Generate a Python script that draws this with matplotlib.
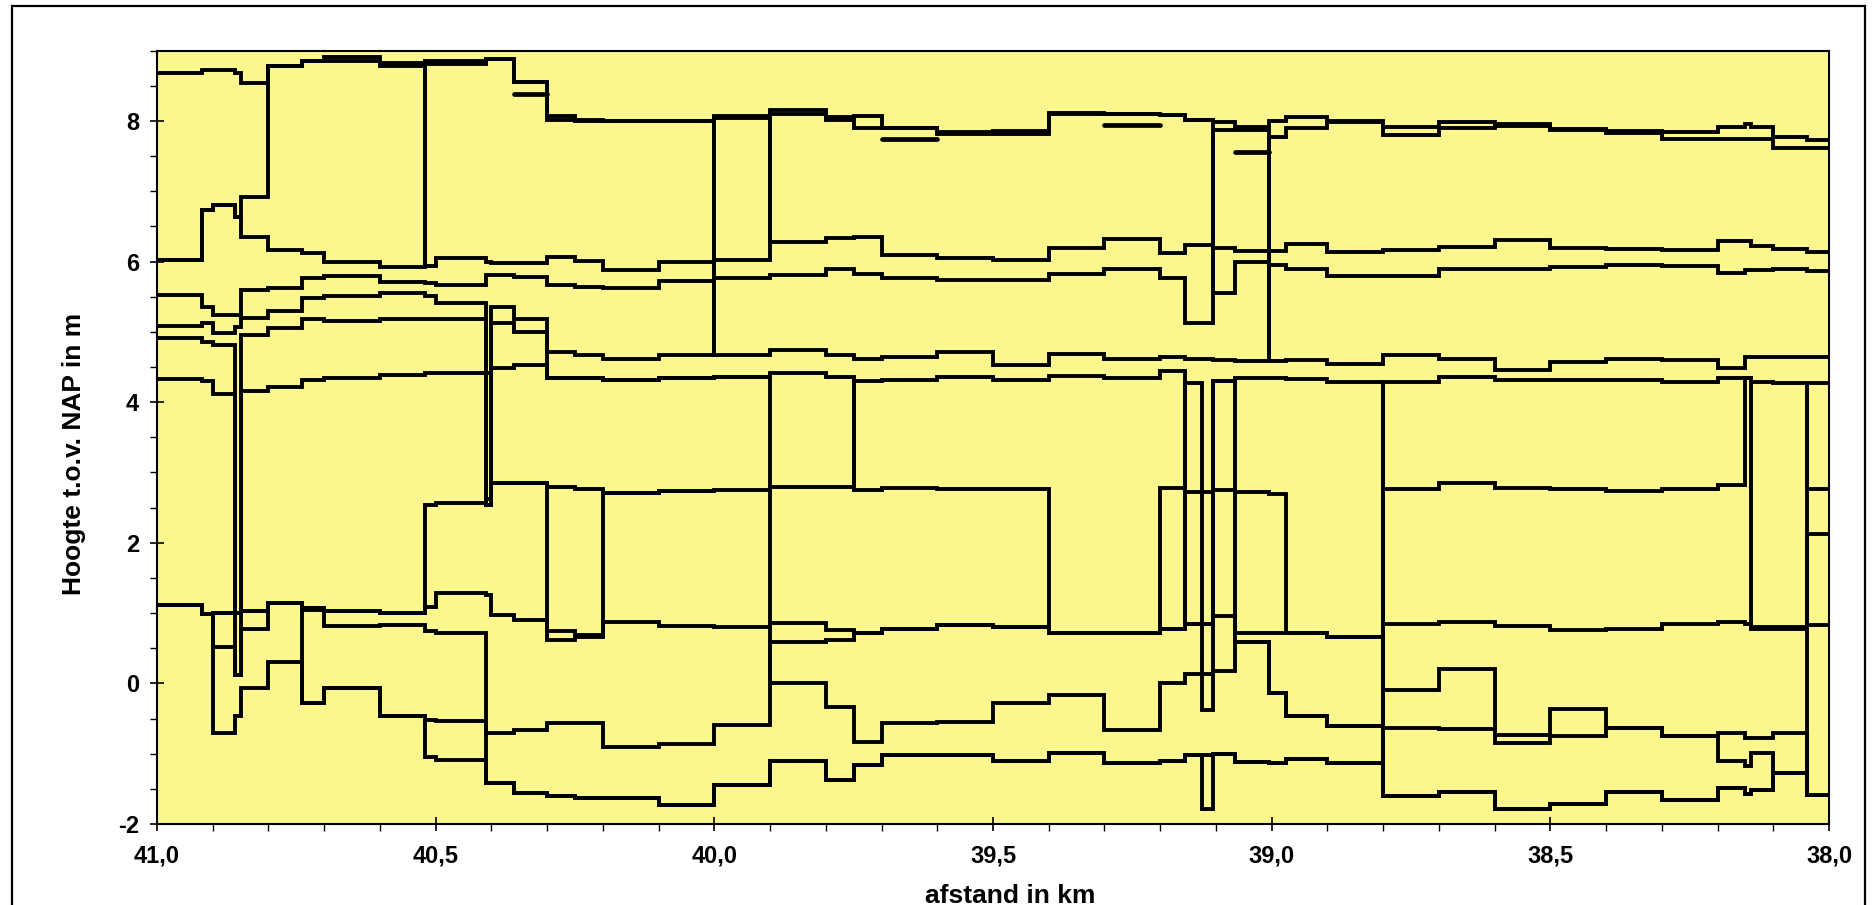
import numpy as np
import matplotlib
matplotlib.use("Agg")
import matplotlib.pyplot as plt
from matplotlib.ticker import MultipleLocator, FixedLocator, FuncFormatter
from matplotlib.patches import Rectangle

plt.rcParams['font.family'] = ['Liberation Sans', 'DejaVu Sans']

nan = np.nan

# step boundaries along the route (km), shared by all series
km_edges = [41.00, 40.92, 40.90, 40.86, 40.85, 40.80, 40.74, 40.70, 40.60, 40.52,
            40.50, 40.41, 40.40, 40.36, 40.30, 40.25, 40.20, 40.10, 40.00, 39.90,
            39.80, 39.75, 39.70, 39.60, 39.50, 39.40, 39.30, 39.20, 39.155, 39.125,
            39.105, 39.065, 39.005, 38.975, 38.90, 38.80, 38.70, 38.60, 38.50, 38.40,
            38.30, 38.20, 38.15, 38.14, 38.10, 38.04, 38.00]

# heights (m t.o.v. NAP) per interval
top_crest = [8.68, 8.72, 8.72, 8.68, 8.54, 8.78, 8.86, 8.91, 8.82, 8.86,
             8.86, 8.88, 8.88, 8.56, 8.07, 8.01, 8.00, 8.00, 8.07, 8.15,
             8.06, 8.07, 7.90, 7.85, 7.86, 8.12, 8.10, 8.08, 8.02, 8.02,
             7.99, 7.92, 8.00, 8.06, 8.00, 7.91, 7.99, 7.96, 7.88, 7.86,
             7.85, 7.92, 7.96, 7.92, 7.77, 7.73]

series_a = [6.02, 6.73, 6.80, 6.64, 6.92, 8.78, 8.86, 8.86, 8.78,
            5.94, 6.05, 6.00, 5.98, 5.98, 6.07, 6.01, 5.88, 6.00, 6.02,
            8.10, 8.01, 7.90, 7.90, 7.81, 7.81, 8.10, 8.10, 8.08, 8.02, 8.02,
            5.56, 5.99, 5.95, 5.90, 5.80, 5.80, 5.90, 5.89, 5.93, 5.95, 5.94,
            5.84, 5.88, 5.88, 5.90, 5.86]

series_b = [6.02, 6.73, 6.80, 6.64, 6.35, 6.16, 6.12, 6.00, 5.93,
            8.81, 8.81, 8.88, 8.88, 8.56, 8.01, 8.00, 8.00, 8.00,
            4.67, 4.74, 4.67, 4.62, 4.64, 4.72, 4.53, 4.69, 4.62, 4.64, 4.62,
            4.62, 4.60, 4.58,
            7.77, 7.90, 7.98, 7.80, 7.90, 7.93, 7.87, 7.83, 7.74, 7.74, 7.74,
            7.74, 7.61, 7.61]

series_p = [5.08, 5.12, 4.98, 5.07, 5.20, 5.30, 5.48, 5.51, 5.55, 5.51,
            5.41, 2.54, 5.36, 5.19, 4.72, 4.67, 4.62, 4.67,
            8.04,
            6.28, 6.33, 6.35, 6.09, 6.05, 6.02, 6.19, 6.32, 6.12, 6.24, 6.24,
            6.20, 6.15, 6.15, 6.25, 6.14, 6.16, 6.21, 6.31, 6.19, 6.18, 6.16,
            6.30, 6.30, 6.22, 6.18, 6.14]

series_m = [5.52, 5.36, 5.24, 5.24, 5.60, 5.63, 5.76, 5.79, 5.71, 5.69,
            5.67, 5.81, 5.81, 5.78, 5.67, 5.64, 5.62, 5.73, 5.76, 5.81,
            5.90, 5.83, 5.77, 5.74, 5.74, 5.83, 5.89, 5.76, 5.13, 5.13,
            7.87, 7.87,
            4.58, 4.60, 4.55, 4.67, 4.62, 4.46, 4.57, 4.62, 4.60, 4.48,
            4.65, 4.65, 4.65, 4.65]

series_q = [4.91, 4.86, 4.81, 1.00, 4.96, 5.05, 5.18, 5.15, 5.18, 5.19,
            5.19, 2.63, 5.12, 5.00,
            4.34, 4.34, 4.32, 4.35, 4.36, 4.41, 4.36,
            2.75, 2.78, 2.77, 2.76, 0.72, 0.72, 2.78,
            4.27, -0.38, 4.30, 4.34, 4.34, 4.33, 4.29,
            -1.60, -1.55, -1.78, -1.71, -1.55, -1.66, -1.49, -1.58, -1.52,
            -1.28, -1.59]

series_s = [4.33, 4.30, 4.12, 0.12, 4.16, 4.21, 4.32, 4.34, 4.39, 4.42,
            4.42, 4.42, 4.48, 4.53, 4.34, 4.34, 4.32, 4.35, 4.36,
            0.01, -0.33, -0.83, -0.57, -0.55, -0.28, -0.17, -0.66, 0.00, 0.14,
            0.14, 0.18, 0.59, -0.14, -0.46, -0.61,
            -0.64, -0.65, -0.73, -0.75, -0.64, -0.75, -1.11, -1.18, -0.99,
            -1.28, 2.13]

series_u1 = [1.12, 0.99, 1.00, 1.00, 1.03, 1.14, 1.07, 1.03, 1.00,
             2.54, 2.57, 2.54, 2.85, 2.85, 2.80, 2.76, 2.71, 2.73, 2.75, 2.80,
             2.79,
             4.30, 4.31, 4.36, 4.32, 4.37, 4.35, 4.44,
             0.84, 0.84, 0.96, 0.59,
             -0.14, -0.46, -0.61,
             -0.09, 0.21, -0.85, -0.36, -0.64, -0.75, -0.70, -0.78, -0.78,
             -0.71, -1.59]

series_u2 = [1.12, 0.99, 0.52, 0.12, 0.78, 1.14, 1.07, 1.03, 1.00,
             1.09, 1.28, 1.26, 0.97, 0.90,
             0.74, 0.69, 0.88, 0.82, 0.80, 0.86, 0.76, 0.72, 0.78, 0.83,
             0.80, 0.72, 0.72, 0.77, 0.84, 0.84,
             4.30, 0.72, 0.72, 0.71, 0.66,
             0.85, 0.88, 0.81, 0.76, 0.78, 0.84, 0.88, 0.85, 0.78, 0.78, 0.83]

series_u3 = [nan] * 12 + [2.85, 2.85, 0.62, 0.66, 2.71, 2.73] + [nan] * 28

series_w = [1.12, 0.99, -0.71, -0.47, -0.07, 0.31, -0.28, -0.07, -0.47, -0.52,
            -0.54, -0.71, -0.71, -0.66, -0.56, -0.57, -0.90, -0.86, -0.59,
            0.59, 0.62,
            0.72, 0.78, 0.83, 0.80, 0.72, 0.72, 0.77,
            2.72, 2.72, 2.75, 2.72, 2.70, 0.71, 0.66,
            2.77, 2.85, 2.78, 2.76, 2.73, 2.76, 2.82, 4.34, 4.29, 4.27, 2.76]

series_v = [1.12, 0.99, 1.00, 1.00, 1.03, 1.14,
            -0.28, -0.07, -0.47,
            -1.04, -1.09, -1.42, -1.42, -1.56, -1.60, -1.63, -1.63, -1.73,
            -1.45, -1.11, -1.38, -1.16, -1.02, -1.02, -1.10, -0.99, -1.13,
            -1.10, -1.02, -1.02, -1.00, -1.12, -1.13, -1.07, -1.13,
            4.29, 4.36, 4.32, 4.32, 4.31, 4.29, 4.34, 4.34, 0.80, 0.80, 4.28]

series_x = [1.12, 0.99, 1.00, 1.00, 1.03, 1.14, 1.04, 0.81, 0.83, 0.74, 0.71,
            -1.42, -1.42, -1.56, -1.60, -1.63, -1.63, -1.73, -1.45, -1.11,
            -1.38, -1.16, -1.02, -1.02, -1.10, -0.99, -1.13, -1.10, -1.02,
            -1.78, -1.00, -1.12, -1.13, -1.07, -1.13,
            -1.60, -1.55, -1.78, -1.71, -1.55, -1.66, -1.49, -1.58, -1.52,
            -1.28, -1.59]

dashes = [nan] * 46
dashes[13] = 8.39
dashes[22] = 7.74
dashes[26] = 7.94
dashes[31] = 7.56

x_ticks = [41.0, 40.5, 40.0, 39.5, 39.0, 38.5, 38.0]
y_ticks = [-2, 0, 2, 4, 6, 8]


def step_path(edges, vals):
    assert len(vals) == len(edges) - 1, len(vals)
    xs, ys = [], []
    for a, b, v in zip(edges[:-1], edges[1:], vals):
        if v is None or np.isnan(v):
            xs.append(np.nan)
            ys.append(np.nan)
        else:
            xs += [a, b]
            ys += [v, v]
    return np.array(xs), np.array(ys)


W, H = 1873, 905
fig = plt.figure(figsize=(W / 100, H / 100), dpi=100)
fig.patch.set_facecolor('white')
ax = fig.add_axes([157 / W, 1 - 824 / H, (1829 - 157) / W, (824 - 50.7) / H])
ax.set_facecolor('#FCF68F')

main = [top_crest, series_a, series_b, series_p, series_m, series_q, series_s,
        series_u1, series_u2, series_u3, series_w, series_v, series_x]
for vals in main:
    xs, ys = step_path(km_edges, vals)
    ax.plot(xs, ys, color='black', lw=2.8, solid_joinstyle='miter',
            solid_capstyle='butt', zorder=3)

xs, ys = step_path(km_edges, dashes)
ax.plot(xs, ys, color='black', lw=3.4, solid_capstyle='round', zorder=3)

ax.set_xlim(41.0, 38.0)
ax.set_ylim(-2, 9)

ax.xaxis.set_major_locator(FixedLocator(x_ticks))
ax.xaxis.set_minor_locator(MultipleLocator(0.1))
ax.xaxis.set_major_formatter(FuncFormatter(lambda v, p: f"{v:.1f}".replace('.', ',')))
ax.yaxis.set_major_locator(FixedLocator(y_ticks))
ax.yaxis.set_minor_locator(MultipleLocator(0.5))
ax.yaxis.set_major_formatter(FuncFormatter(lambda v, p: f"{int(round(v))}"))

ax.tick_params(axis='both', which='major', direction='inout', length=10,
               width=1.2, labelsize=17, colors='black')
ax.tick_params(axis='both', which='minor', direction='out', length=5, width=1.0)
ax.tick_params(axis='x', which='major', pad=10)
ax.tick_params(axis='y', which='major', pad=8)
for lab in ax.get_xticklabels() + ax.get_yticklabels():
    lab.set_fontweight('bold')

for sp in ax.spines.values():
    sp.set_linewidth(1.5)
    sp.set_color('black')

fig.text(74 / W, 1 - 454 / H, 'Hoogte t.o.v. NAP in m', rotation=90,
         ha='center', va='center', fontsize=19, fontweight='bold')
fig.text(1010 / W, 1 - 884 / H, 'afstand in km', ha='center', va='top',
         fontsize=19, fontweight='bold')

frame = Rectangle((12 / W, -0.05), (1865 - 12) / W, 1.05 - 6 / H,
                  transform=fig.transFigure, fill=False, ec='black', lw=1.6)
fig.patches.append(frame)

fig.savefig('out.png', dpi=100, facecolor='white')
